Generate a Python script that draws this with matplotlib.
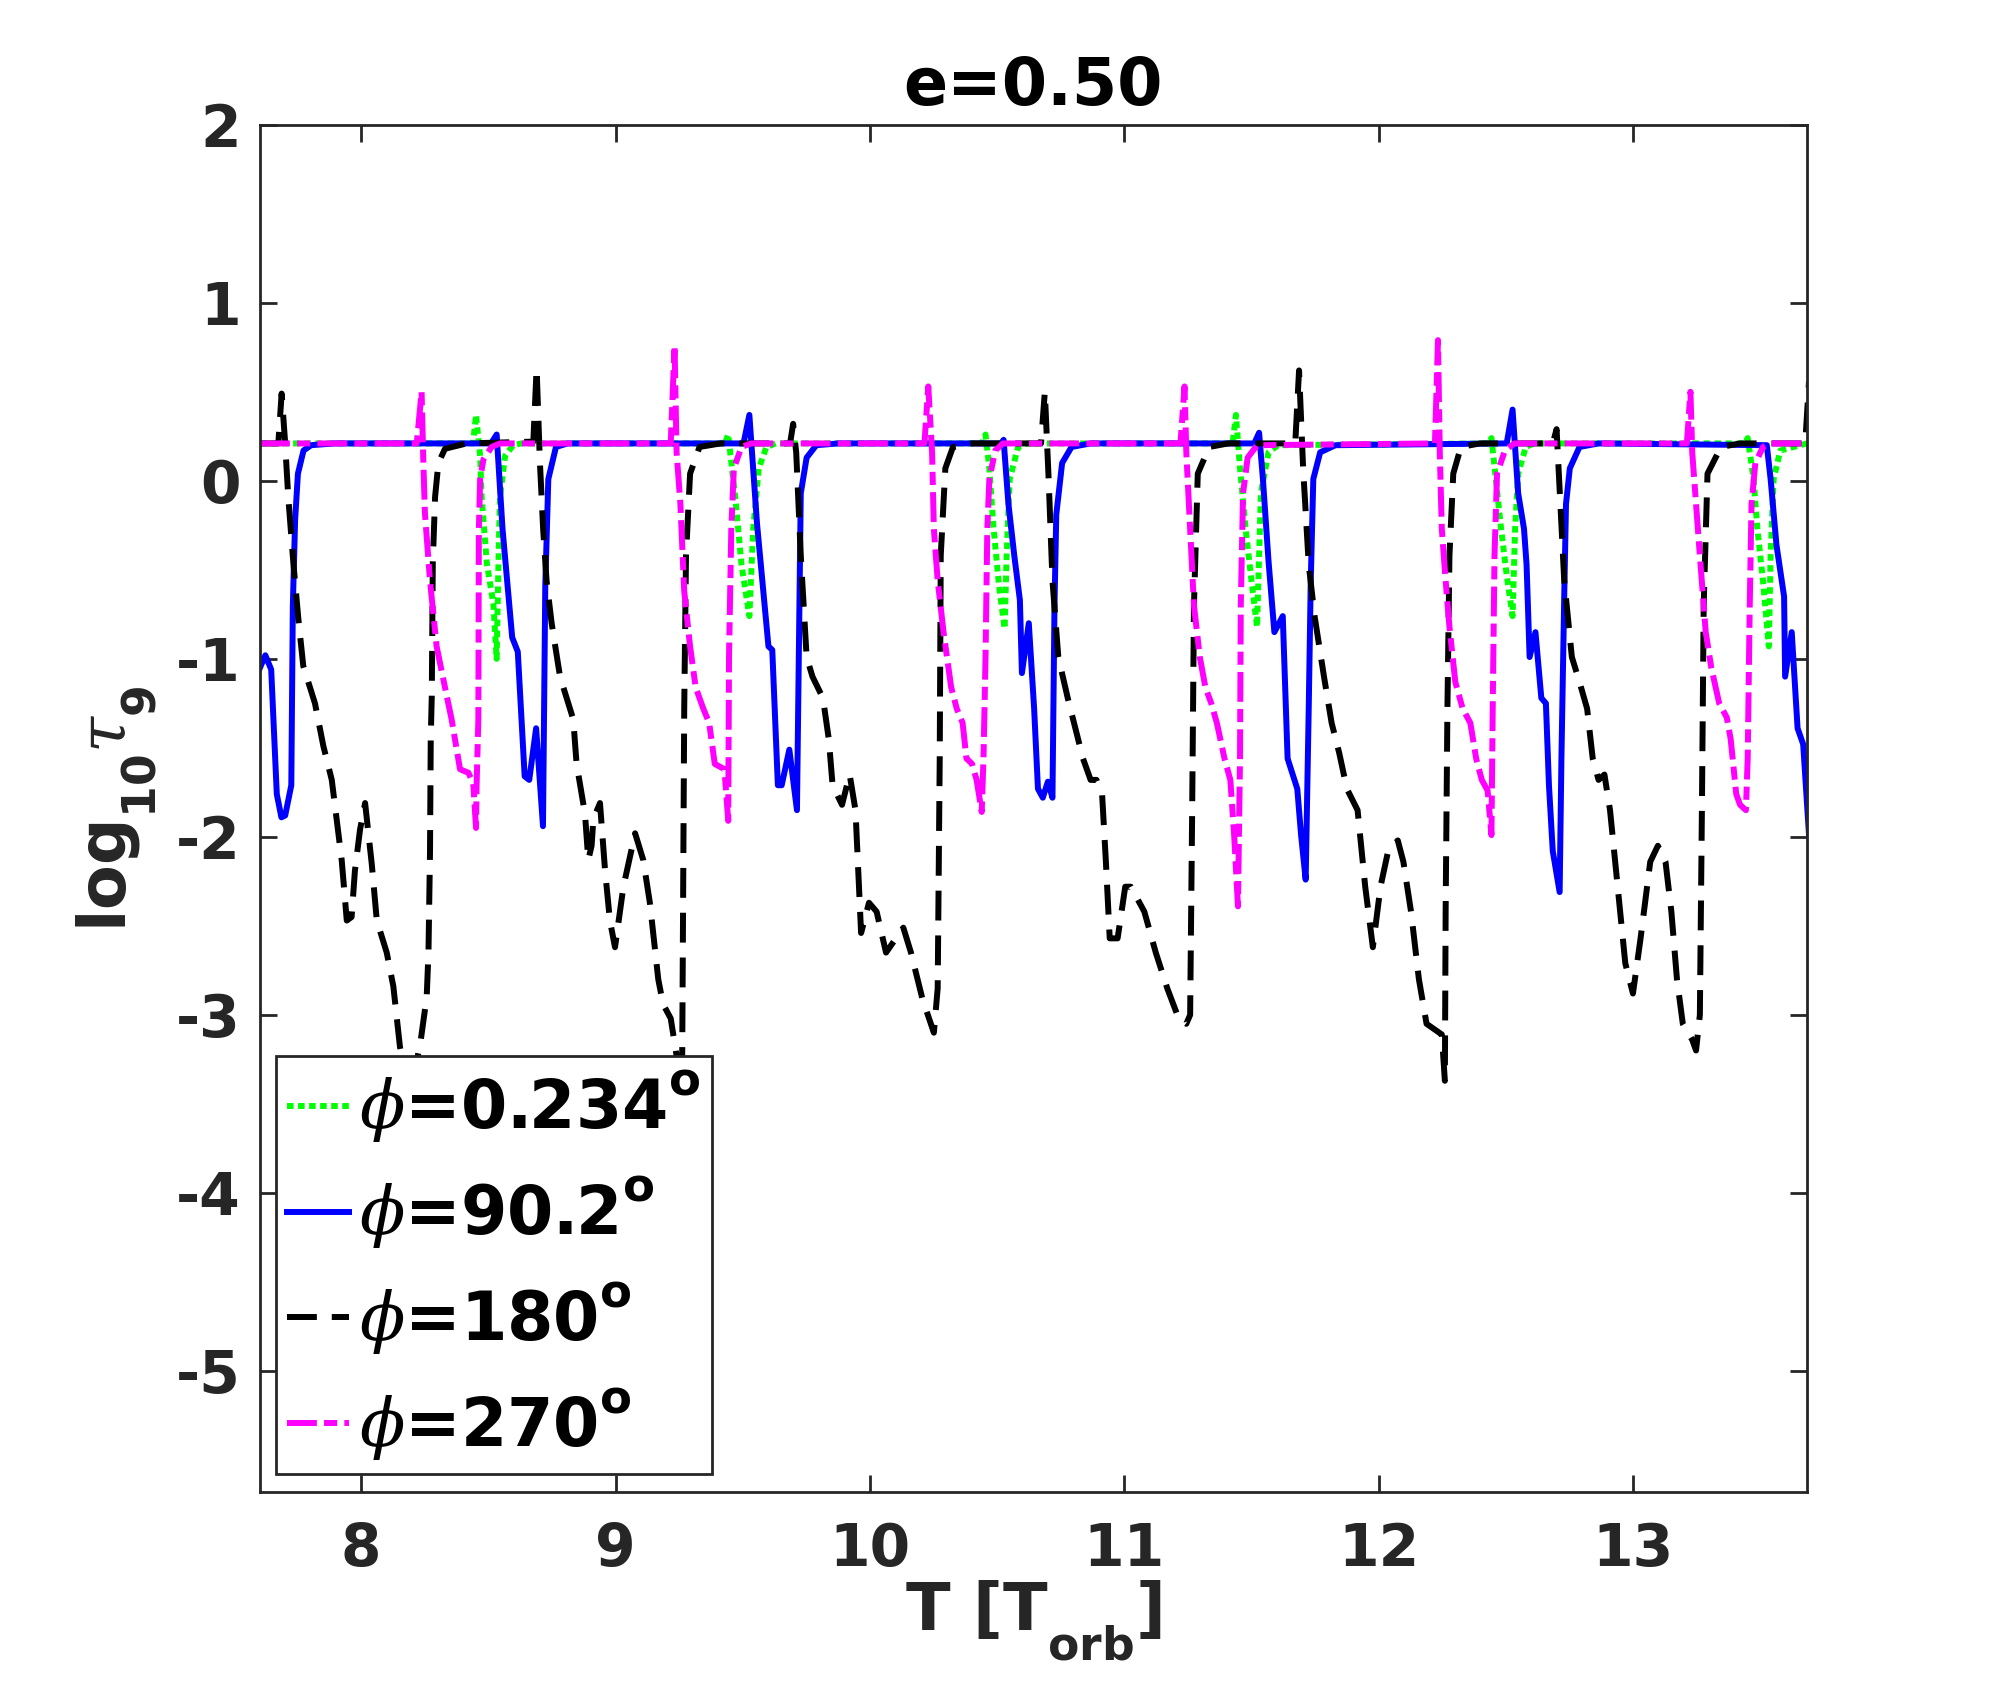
import numpy as np
import matplotlib
matplotlib.use('Agg')
from matplotlib import pyplot as plt

# (T [T_orb], log10 tau_9)
green = [(7.603, 0.21), (8.44, 0.21), (8.452, 0.37), (8.468, 0.14), (8.474, -0.09), (8.494, -0.46),
         (8.52, -0.69), (8.533, -1.0), (8.54, -0.46), (8.546, -0.09), (8.566, 0.14), (8.598, 0.2), (8.63, 0.21),
         (9.43, 0.21), (9.443, 0.26), (9.473, -0.13), (9.495, -0.47), (9.526, -0.76), (9.541, -0.27),
         (9.563, 0.07), (9.593, 0.19), (9.63, 0.21),
         (10.44, 0.21), (10.454, 0.26), (10.469, 0.07), (10.484, -0.24), (10.507, -0.59), (10.529, -0.83),
         (10.537, -0.42), (10.549, 0.01), (10.582, 0.19), (10.62, 0.21),
         (11.425, 0.21), (11.438, 0.37), (11.454, 0.07), (11.476, -0.27), (11.499, -0.56), (11.521, -0.82),
         (11.529, -0.42), (11.536, -0.07), (11.566, 0.16), (11.604, 0.2),
         (12.43, 0.21), (12.442, 0.24), (12.457, 0.04), (12.48, -0.27), (12.502, -0.53), (12.525, -0.76),
         (12.535, -0.27), (12.547, 0.04), (12.577, 0.19), (12.61, 0.21),
         (13.437, 0.21), (13.449, 0.24), (13.472, 0.01), (13.487, -0.27), (13.509, -0.56), (13.532, -0.93),
         (13.539, -0.42), (13.551, 0.01), (13.577, 0.17), (13.682, 0.21)]

blue = [(7.603, -1.05), (7.624, -0.98), (7.647, -1.06), (7.669, -1.76), (7.687, -1.89), (7.702, -1.88),
        (7.726, -1.71), (7.732, -0.70), (7.741, -0.22), (7.752, 0.04), (7.774, 0.17), (7.804, 0.20), (7.895, 0.21),
        (8.511, 0.21), (8.533, 0.26), (8.556, -0.27), (8.594, -0.88), (8.616, -0.96), (8.643, -1.66),
        (8.661, -1.68), (8.688, -1.39), (8.715, -1.94), (8.724, -0.59), (8.736, 0.01), (8.766, 0.19), (8.812, 0.21),
        (9.503, 0.21), (9.526, 0.37), (9.556, -0.24), (9.601, -0.93), (9.616, -0.95), (9.638, -1.71),
        (9.653, -1.71), (9.683, -1.51), (9.713, -1.85), (9.728, -0.07), (9.751, 0.13), (9.789, 0.20), (9.875, 0.21),
        (10.515, 0.21), (10.525, 0.23), (10.544, -0.13), (10.567, -0.42), (10.589, -0.67), (10.597, -1.08),
        (10.624, -0.80), (10.645, -1.28), (10.66, -1.73), (10.679, -1.78), (10.699, -1.69), (10.717, -1.78),
        (10.725, -0.70), (10.732, -0.19), (10.755, 0.10), (10.792, 0.19), (10.867, 0.21),
        (11.51, 0.21), (11.529, 0.27), (11.544, 0.01), (11.566, -0.45), (11.589, -0.85), (11.622, -0.76),
        (11.641, -1.56), (11.679, -1.73), (11.694, -1.99), (11.712, -2.24), (11.724, -1.28), (11.732, -0.56),
        (11.742, 0.01), (11.769, 0.16), (11.829, 0.20),
        (12.502, 0.21), (12.525, 0.40), (12.547, -0.07), (12.57, -0.27), (12.58, -0.47), (12.592, -0.99),
        (12.615, -0.85), (12.638, -1.22), (12.656, -1.25), (12.668, -1.71), (12.683, -2.08), (12.71, -2.31),
        (12.717, -1.56), (12.728, -0.65), (12.735, -0.13), (12.75, 0.07), (12.788, 0.19), (12.863, 0.21),
        (13.524, 0.20), (13.539, 0.01), (13.562, -0.36), (13.592, -0.65), (13.596, -1.10), (13.622, -0.85),
        (13.645, -1.39), (13.667, -1.48), (13.69, -1.99)]

black = [(7.603, 0.21), (7.675, 0.21), (7.688, 0.49), (7.701, 0.23), (7.714, -0.09), (7.734, -0.46),
         (7.754, -0.78), (7.773, -1.04), (7.819, -1.25), (7.852, -1.49), (7.885, -1.68), (7.904, -1.90),
         (7.924, -2.13), (7.944, -2.47), (7.963, -2.45), (7.976, -2.19), (7.996, -1.96), (8.016, -1.81),
         (8.042, -2.15), (8.062, -2.47), (8.101, -2.65), (8.127, -2.84), (8.153, -3.18), (8.166, -3.27),
         (8.19, -3.45), (8.232, -3.17), (8.258, -2.90), (8.265, -2.65), (8.271, -2.09), (8.274, -1.44),
         (8.278, -1.21), (8.282, -0.46), (8.291, -0.09), (8.304, 0.10), (8.33, 0.18), (8.415, 0.21),
         (8.677, 0.22), (8.69, 0.63), (8.703, 0.10), (8.716, -0.28), (8.729, -0.56), (8.749, -0.80),
         (8.782, -1.10), (8.834, -1.34), (8.847, -1.59), (8.88, -1.87), (8.893, -2.13), (8.906, -2.05),
         (8.913, -1.90), (8.939, -1.81), (8.959, -2.19), (8.978, -2.47), (8.998, -2.62), (9.031, -2.28),
         (9.077, -1.98), (9.109, -2.13), (9.135, -2.37), (9.168, -2.80), (9.187, -2.94), (9.217, -3.02),
         (9.24, -3.23), (9.255, -3.40), (9.262, -3.25), (9.27, -1.28), (9.277, -0.42), (9.293, 0.04),
         (9.33, 0.19), (9.413, 0.21),
         (9.686, 0.21), (9.698, 0.32), (9.71, 0.16), (9.728, -0.42), (9.751, -0.99), (9.774, -1.10),
         (9.815, -1.22), (9.838, -1.45), (9.853, -1.71), (9.89, -1.82), (9.92, -1.65), (9.943, -1.85),
         (9.965, -2.54), (9.996, -2.37), (10.026, -2.42), (10.063, -2.65), (10.131, -2.51), (10.161, -2.65),
         (10.206, -2.91), (10.251, -3.10), (10.266, -2.85), (10.274, -1.56), (10.278, -0.42), (10.296, 0.07),
         (10.326, 0.19), (10.401, 0.21),
         (10.672, 0.21), (10.687, 0.50), (10.702, 0.01), (10.717, -0.56), (10.74, -0.99), (10.777, -1.22),
         (10.837, -1.56), (10.867, -1.68), (10.89, -1.68), (10.912, -1.76), (10.927, -2.14), (10.942, -2.57),
         (10.973, -2.57), (11.003, -2.28), (11.025, -2.28), (11.078, -2.42), (11.123, -2.65), (11.168, -2.85),
         (11.213, -3.02), (11.243, -3.05), (11.258, -3.00), (11.266, -1.85), (11.273, -0.70), (11.288, 0.04),
         (11.333, 0.19), (11.408, 0.21),
         (11.671, 0.21), (11.686, 0.62), (11.702, 0.07), (11.724, -0.47), (11.747, -0.76), (11.784, -1.10),
         (11.814, -1.36), (11.844, -1.53), (11.874, -1.73), (11.916, -1.85), (11.946, -2.28), (11.976, -2.62),
         (12.006, -2.28), (12.036, -2.08), (12.074, -2.02), (12.096, -2.14), (12.126, -2.42), (12.157, -2.80),
         (12.187, -3.05), (12.217, -3.08), (12.247, -3.11), (12.259, -3.37), (12.262, -2.42), (12.269, -1.28),
         (12.277, -0.42), (12.292, 0.04), (12.322, 0.19), (12.397, 0.21),
         (12.683, 0.21), (12.698, 0.29), (12.713, -0.13), (12.728, -0.56), (12.758, -0.99), (12.788, -1.13),
         (12.818, -1.28), (12.84, -1.56), (12.863, -1.68), (12.886, -1.65), (12.908, -1.85), (12.938, -2.28),
         (12.968, -2.71), (12.998, -2.88), (13.028, -2.57), (13.066, -2.14), (13.096, -2.05), (13.126, -2.14),
         (13.149, -2.42), (13.171, -2.80), (13.194, -3.05), (13.231, -3.14), (13.246, -3.20), (13.261, -3.00),
         (13.269, -1.85), (13.276, -0.70), (13.291, 0.04), (13.344, 0.19), (13.419, 0.21),
         (13.675, 0.21), (13.69, 0.56)]

magenta = [(7.603, 0.21), (8.219, 0.21), (8.238, 0.50), (8.245, 0.10), (8.251, -0.18), (8.271, -0.56),
           (8.297, -0.93), (8.337, -1.21), (8.356, -1.34), (8.389, -1.62), (8.422, -1.64), (8.441, -1.70),
           (8.452, -1.95), (8.454, -1.72), (8.461, -1.34), (8.463, -0.28), (8.468, 0.01), (8.481, 0.12),
           (8.513, 0.19), (8.546, 0.21),
           (9.217, 0.21), (9.232, 0.76), (9.24, 0.16), (9.255, -0.13), (9.27, -0.62), (9.293, -0.93),
           (9.315, -1.16), (9.345, -1.28), (9.368, -1.36), (9.39, -1.59), (9.428, -1.62), (9.443, -1.91),
           (9.446, -0.99), (9.455, -0.27), (9.465, 0.07), (9.495, 0.19), (9.533, 0.21),
           (10.214, 0.21), (10.229, 0.53), (10.244, 0.16), (10.251, -0.27), (10.266, -0.56), (10.289, -0.85),
           (10.319, -1.16), (10.341, -1.28), (10.364, -1.36), (10.379, -1.56), (10.401, -1.59), (10.419, -1.68),
           (10.439, -1.86), (10.446, -1.56), (10.454, -0.99), (10.461, -0.27), (10.469, 0.01), (10.492, 0.17),
           (10.522, 0.21),
           (11.22, 0.21), (11.236, 0.53), (11.243, 0.16), (11.258, -0.27), (11.273, -0.70), (11.296, -0.99),
           (11.318, -1.16), (11.341, -1.25), (11.363, -1.36), (11.393, -1.56), (11.416, -1.68), (11.431, -1.99),
           (11.446, -2.39), (11.454, -1.56), (11.457, -0.70), (11.466, -0.07), (11.484, 0.13), (11.521, 0.20),
           (12.22, 0.21), (12.232, 0.79), (12.239, 0.16), (12.247, -0.27), (12.262, -0.56), (12.277, -0.82),
           (12.30, -1.13), (12.329, -1.28), (12.359, -1.36), (12.382, -1.56), (12.404, -1.68), (12.427, -1.74),
           (12.442, -1.99), (12.447, -1.28), (12.454, -0.42), (12.464, 0.04), (12.495, 0.17), (12.532, 0.21),
           (13.21, 0.21), (13.224, 0.50), (13.231, 0.16), (13.246, -0.13), (13.261, -0.42), (13.284, -0.85),
           (13.306, -1.05), (13.337, -1.25), (13.367, -1.33), (13.382, -1.45), (13.404, -1.76), (13.419, -1.82),
           (13.442, -1.85), (13.449, -1.56), (13.457, -0.70), (13.464, -0.13), (13.479, 0.10), (13.509, 0.19),
           (13.539, 0.21), (13.682, 0.21)]

labels = [r'$\phi$=0.234$^{\mathbf{o}}$', r'$\phi$=90.2$^{\mathbf{o}}$',
          r'$\phi$=180$^{\mathbf{o}}$', r'$\phi$=270$^{\mathbf{o}}$']
xticks = [8, 9, 10, 11, 12, 13]
yticks = [-5, -4, -3, -2, -1, 0, 1, 2]

plt.rcParams['font.family'] = 'DejaVu Sans'
plt.rcParams['mathtext.fontset'] = 'custom'
plt.rcParams['mathtext.rm'] = 'DejaVu Sans'
plt.rcParams['mathtext.it'] = 'DejaVu Serif:italic'
plt.rcParams['mathtext.bf'] = 'DejaVu Sans:bold'
plt.rcParams['axes.unicode_minus'] = False

# MATLAB drops its subscripts much further below the baseline
try:
    from matplotlib import _mathtext
    _mathtext.DejaVuSerifFontConstants.sub1 = 0.9
    _mathtext.DejaVuSerifFontConstants.sup1 = 0.95
except Exception:
    pass

dark = '#262626'
lw = 4.3

fig = plt.figure(figsize=(20, 16.88), dpi=100)
ax = fig.add_axes([0.130, 0.1161, 0.7735, 0.81])

styles = [
    (green, (0, 1, 0), (0, (1.1, 0.75))),
    (blue, (0, 0, 1), '-'),
    (black, (0, 0, 0), (0, (5, 2.5))),
    (magenta, (1, 0, 1), (0, (5, 1.2, 2.2, 1.2))),
]
for (data, col, ls), lab in zip(styles, labels):
    arr = np.array(data)
    ax.plot(arr[:, 0], arr[:, 1], color=col, lw=lw, ls=ls, label=lab)

ax.set_xlim(7.603, 13.682)
ax.set_ylim(-5.68, 2)
ax.set_xticks(xticks)
ax.set_yticks(yticks)
ax.tick_params(direction='in', length=12, width=2, top=True, right=True,
               colors=dark, labelsize=42)
ax.tick_params(axis='x', pad=21)
ax.tick_params(axis='y', pad=14)
for lab in ax.get_xticklabels() + ax.get_yticklabels():
    lab.set_fontweight('bold')
for sp in ax.spines.values():
    sp.set_linewidth(2)
    sp.set_color(dark)

ax.set_title('e=0.50', fontsize=47, fontweight='bold', pad=14)
ax.set_xlabel(r'T [T$_{\mathbf{orb}}$]', fontsize=47, fontweight='bold', labelpad=0, color=dark)
ax.set_ylabel(r'log$_{\mathbf{10}}\tau_{\mathbf{9}}$', fontsize=47, fontweight='bold',
              labelpad=12, color=dark)

leg = ax.legend(loc='lower left', bbox_to_anchor=(0.0103, 0.0132), borderaxespad=0,
                prop={'size': 48, 'weight': 'bold'}, handlelength=0.92, handletextpad=0.15,
                borderpad=0.17, labelspacing=0.42, fancybox=False, framealpha=1, edgecolor=dark)
leg.get_frame().set_linewidth(2)

fig.savefig('out.png', dpi=100)
